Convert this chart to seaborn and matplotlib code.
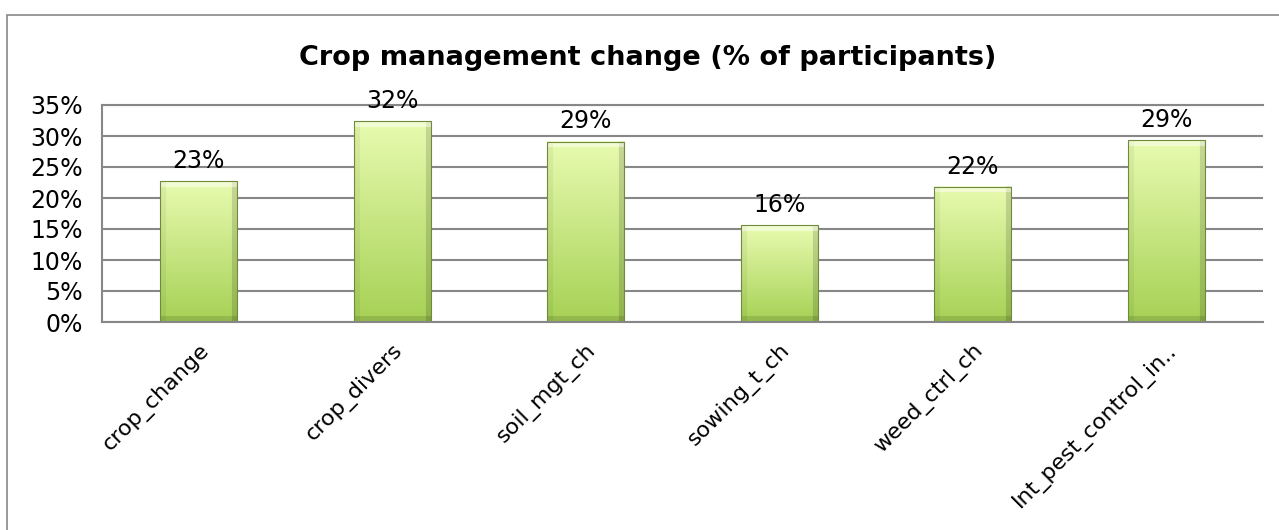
import numpy as np
import pandas as pd
import seaborn as sns
import matplotlib.pyplot as plt
from matplotlib.patches import Rectangle
from matplotlib.colors import to_rgb

# values
items = ['crop_change', 'crop_divers', 'soil_mgt_ch', 'sowing_t_ch',
         'weed_ctrl_ch', 'Int_pest_control_in..']
shares = [0.227, 0.324, 0.291, 0.156, 0.218, 0.293]
yticks = [0.0, 0.05, 0.10, 0.15, 0.20, 0.25, 0.30, 0.35]
ytick_labels = ['0%', '5%', '10%', '15%', '20%', '25%', '30%', '35%']
title = 'Crop management change (% of participants)'

df = pd.DataFrame({'item': items, 'share': shares})

sns.set_style('white')
plt.rcParams['font.family'] = ['DejaVu Sans']
plt.rcParams['text.color'] = 'black'
plt.rcParams['xtick.color'] = 'black'
plt.rcParams['ytick.color'] = 'black'

W, H = 1279, 530
fig = plt.figure(figsize=(W / 100, H / 100), dpi=100)
ax = fig.add_axes([102 / W, (H - 322) / H, (1263 - 102) / W, 217 / H])

grey = '#878787'

sns.barplot(data=df, x='item', y='share', color='#c6e67f', width=0.4,
            errorbar=None, ax=ax, edgecolor='#6f8a38', linewidth=0.8)
ax.set_ylim(0, 0.35)
ax.set_xlim(-0.5, 5.5)

# gradient + bevel fill, Excel style
top = np.array(to_rgb('#e8fbb0'))
bot = np.array(to_rgb('#a6d155'))
for patch in ax.patches:
    x0, w, h = patch.get_x(), patch.get_width(), patch.get_height()
    p0 = ax.transData.transform((x0, 0))
    p1 = ax.transData.transform((x0 + w, h))
    cols = max(int(abs(p1[0] - p0[0])), 4)
    rows = max(int(abs(p1[1] - p0[1])), 4)
    t = np.linspace(0, 1, rows)[:, None, None]
    img = np.repeat(top * (1 - t) + bot * t, cols, axis=1)
    b = 6
    shade = np.ones((rows, cols))
    shade[:, -b:] *= 0.86
    shade[-b:, :] *= 0.88
    shade[:, :b] *= 0.95
    img = img * shade[..., None]
    img[:b, :] = img[:b, :] * 0.55 + 0.45
    ax.imshow(np.clip(img, 0, 1), extent=(x0, x0 + w, 0, h), aspect='auto',
              zorder=patch.get_zorder() - 0.1, interpolation='bilinear')
    patch.set_facecolor('none')
ax.set_ylim(0, 0.35)
ax.set_xlim(-0.5, 5.5)

ax.bar_label(ax.containers[0], labels=[f'{v * 100:.0f}%' for v in shares],
             padding=6, fontsize=17, color='black')

ax.set_axisbelow(True)
ax.yaxis.grid(True, color=grey, lw=1.5)
ax.xaxis.grid(False)
for side in ['left', 'bottom', 'top']:
    ax.spines[side].set_color(grey)
    ax.spines[side].set_linewidth(1.5)
ax.spines['right'].set_visible(False)

ax.set_yticks(yticks)
ax.set_yticklabels(ytick_labels)
ax.set_xticks(range(len(items)))
ax.set_xticklabels(items, rotation=45, ha='right', rotation_mode='anchor')
ax.tick_params(axis='y', length=0, pad=14, labelsize=17)
ax.tick_params(axis='x', length=0, pad=13, labelsize=16)
ax.set_xlabel('')
ax.set_ylabel('')

fig.text(648 / W, 1 - 58 / H, title, ha='center', va='center',
         fontsize=19.5, fontweight='bold', color='black')

# chart frame (runs off the right and bottom edges)
fig.add_artist(Rectangle((7 / W, -0.1), 2, 1 - 15 / H + 0.1,
                         transform=fig.transFigure, fill=False,
                         edgecolor=grey, lw=1.2, clip_on=False))

fig.savefig('out.png', dpi=100)
